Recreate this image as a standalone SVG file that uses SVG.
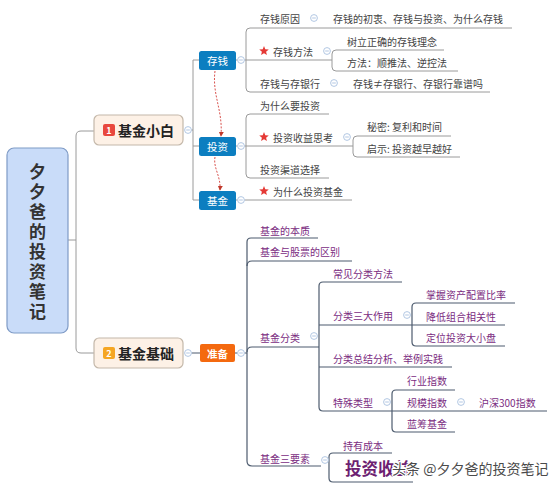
<svg xmlns="http://www.w3.org/2000/svg" width="554" height="490" viewBox="0 0 554 490">
<defs>
<style>
text{font-family:"Noto Sans CJK SC","Noto Sans",sans-serif;dominant-baseline:central}
.t{font-size:10px;fill:#444}
.p{font-size:10px;fill:#7b2c7f}
.g{fill:none;stroke:#9a9a9a;stroke-width:1}
.d{fill:none;stroke:#4d5b6e;stroke-width:1.2}
.bx{fill:#0c7ec0}
.bt{font-size:10.5px;fill:#fff;text-anchor:middle}
.lvl1{fill:#fdf1e6;stroke:#c4b8aa;stroke-width:1.2}
.l1t{font-size:14px;font-weight:bold;fill:#222}
.dash{fill:none;stroke:#d9534f;stroke-width:1;stroke-dasharray:2 1.5}
</style>
<symbol id="c" viewBox="-4 -4 8 8" width="8" height="8" overflow="visible">
<circle r="3.4" fill="#fff" stroke="#a9c1e0" stroke-width="0.9"/>
<path d="M-1.8 0H1.8" stroke="#a9c1e0" stroke-width="0.9"/>
</symbol>
<polygon id="star" points="0,-5 1.29,-1.78 4.76,-1.55 2.09,0.68 2.94,4.05 0,2.2 -2.94,4.05 -2.09,0.68 -4.76,-1.55 -1.29,-1.78" fill="#e53935"/>
<marker id="ah" viewBox="0 0 6 6" refX="5" refY="3" markerWidth="5" markerHeight="5" orient="auto">
<path d="M0,0 L6,3 L0,6 z" fill="#c0392b"/>
</marker>
</defs>
<rect width="554" height="490" fill="#fff"/>

<g id="connectors">
<path class="g" d="M68 240H76M94 131H81Q76 131 76 136V348Q76 353 81 353H94"/>
<path class="g" d="M191.5 130H193M199 60H193V200H199M193 146H199"/>
<path class="g" d="M236 60H237.5M236 146H237.5M236 200H237.5"/>
<path class="g" d="M512 28H250Q246 28 246 32V88Q246 92 250 92H490M244.5 60H332"/>
<path class="g" d="M444 50H336Q332 50 332 54V67Q332 71 336 71H458"/>
<path class="g" d="M329 114H250Q246 114 246 118V174Q246 178 250 178H329M244.5 146H353"/>
<path class="g" d="M451 136H357Q353 136 353 140V153Q353 157 357 157H460"/>
<path class="g" d="M244.5 200H352"/>
<path class="dash" marker-end="url(#ah)" d="M215 71C212 95 223 110 221 136"/>
<path class="dash" marker-end="url(#ah)" d="M215 157C213 168 221 176 220 190"/>
<path class="d" d="M191.5 353H200M235 353H237.5M244.5 353H247"/>
<path class="d" d="M318 238H251Q247 238 247 242V461Q247 466 252 466H321"/>
<path class="d" d="M247 266Q247 261 252 261H352M247 352Q247 347 252 347H319"/>
<path class="d" d="M402 282H323Q319 282 319 286V407Q319 411 323 411H392M319 325H412"/>
<path class="d" d="M515 303H416Q412 303 412 307V342Q412 346 416 346H505M412 325H505"/>
<path class="d" d="M319 367H452"/>
<path class="d" d="M455 390H396Q392 390 392 394V428Q392 432 396 432H455M392 411H547"/>
<path class="d" d="M392 453H333Q329 453 329 457V478Q329 482 333 482H413"/>
</g>

<g id="root">
<rect x="7" y="148" width="61" height="185" rx="7" fill="#c9dcf9" stroke="#7f9bc6" stroke-width="1.2"/>
<text x="37.5" y="163" font-size="17" font-weight="bold" fill="#333" writing-mode="vertical-rl" letter-spacing="3" style="dominant-baseline:central">夕夕爸的投资笔记</text>
</g>

<g id="n-jjxb">
<rect class="lvl1" x="94" y="115" width="89" height="30" rx="5"/>
<rect x="103" y="124" width="12" height="12" rx="2" fill="#e8483e"/>
<text x="109" y="130.5" font-size="9" font-weight="bold" fill="#fff" text-anchor="middle">1</text>
<text class="l1t" x="118" y="130">基金小白</text>
<use href="#c" x="184" y="126"/>
</g>

<g id="n-cq">
<rect class="bx" x="199" y="51" width="37" height="19" rx="2.5"/>
<text class="bt" x="217.5" y="60.5">存钱</text>
<use href="#c" x="237" y="56"/>
</g>
<g id="n-tz">
<rect class="bx" x="199" y="137" width="37" height="19" rx="2.5"/>
<text class="bt" x="217.5" y="146.5">投资</text>
<use href="#c" x="237" y="142"/>
</g>
<g id="n-jj">
<rect class="bx" x="199" y="191" width="37" height="19" rx="2.5"/>
<text class="bt" x="217.5" y="200.5">基金</text>
<use href="#c" x="237" y="196"/>
</g>

<g id="n-cqyy">
<text class="t" x="260" y="18">存钱原因</text>
<use href="#c" x="310" y="14"/>
<text class="t" x="333" y="18">存钱的初衷、存钱与投资、为什么存钱</text>
</g>
<g id="n-cqff">
<use href="#star" x="264" y="51"/>
<text class="t" x="273" y="51">存钱方法</text>
<use href="#c" x="323" y="47"/>
<text class="t" x="347" y="41">树立正确的存钱理念</text>
<text class="t" x="347" y="62">方法：顺推法、逆控法</text>
</g>
<g id="n-cqyh">
<text class="t" x="260" y="83">存钱与存银行</text>
<use href="#c" x="330" y="79"/>
<text class="t" x="353" y="83">存钱≠存银行、存银行靠谱吗</text>
</g>
<g id="n-wsm">
<text class="t" x="260" y="105">为什么要投资</text>
</g>
<g id="n-tzsy">
<use href="#star" x="264" y="137"/>
<text class="t" x="273" y="137">投资收益思考</text>
<use href="#c" x="343" y="133"/>
<text class="t" x="367" y="126">秘密: 复利和时间</text>
<text class="t" x="367" y="148">启示: 投资越早越好</text>
</g>
<g id="n-qd">
<text class="t" x="260" y="169">投资渠道选择</text>
</g>
<g id="n-wsmjj">
<use href="#star" x="264" y="191"/>
<text class="t" x="273" y="191">为什么投资基金</text>
</g>

<g id="n-jjjc">
<rect class="lvl1" x="94" y="338" width="89" height="30" rx="5"/>
<rect x="103" y="347" width="12" height="12" rx="2" fill="#f5a623"/>
<text x="109" y="353.5" font-size="9" font-weight="bold" fill="#fff" text-anchor="middle">2</text>
<text class="l1t" x="118" y="353">基金基础</text>
<use href="#c" x="184" y="349"/>
</g>
<g id="n-zb">
<rect x="200" y="344" width="35" height="18" rx="2" fill="#f4690f"/>
<text x="217.5" y="353.5" font-size="10.5" font-weight="bold" fill="#fff" text-anchor="middle">准备</text>
<use href="#c" x="237" y="349"/>
</g>

<g id="n-bz"><text class="p" x="260" y="230">基金的本质</text></g>
<g id="n-qb"><text class="p" x="260" y="251">基金与股票的区别</text></g>
<g id="n-fl">
<text class="p" x="260" y="337">基金分类</text>
<use href="#c" x="310" y="332"/>
</g>
<g id="n-cjfl"><text class="p" x="333" y="273">常见分类方法</text></g>
<g id="n-sdzy">
<text class="p" x="333" y="315">分类三大作用</text>
<use href="#c" x="403" y="311"/>
<text class="p" x="426" y="294">掌握资产配置比率</text>
<text class="p" x="426" y="316">降低组合相关性</text>
<text class="p" x="426" y="337">定位投资大小盘</text>
</g>
<g id="n-zj"><text class="p" x="333" y="358">分类总结分析、举例实践</text></g>
<g id="n-ts">
<text class="p" x="333" y="402">特殊类型</text>
<use href="#c" x="383" y="398"/>
<text class="p" x="407" y="380">行业指数</text>
<text class="p" x="407" y="402">规模指数</text>
<use href="#c" x="457" y="398"/>
<text class="p" x="479" y="402">沪深300指数</text>
<text class="p" x="407" y="423">蓝筹基金</text>
</g>
<g id="n-sys">
<text class="p" x="260" y="458">基金三要素</text>
<use href="#c" x="321" y="456"/>
<text class="p" x="343" y="445">持有成本</text>
<text x="345" y="468" font-size="16.5" font-weight="bold" fill="#6d1f72">投资收益</text>
</g>

<text x="392" y="468" font-size="14" fill="#4a4a4a" stroke="#fff" stroke-width="2.5" paint-order="stroke" stroke-linejoin="round">头条 @夕夕爸的投资笔记</text>
</svg>
